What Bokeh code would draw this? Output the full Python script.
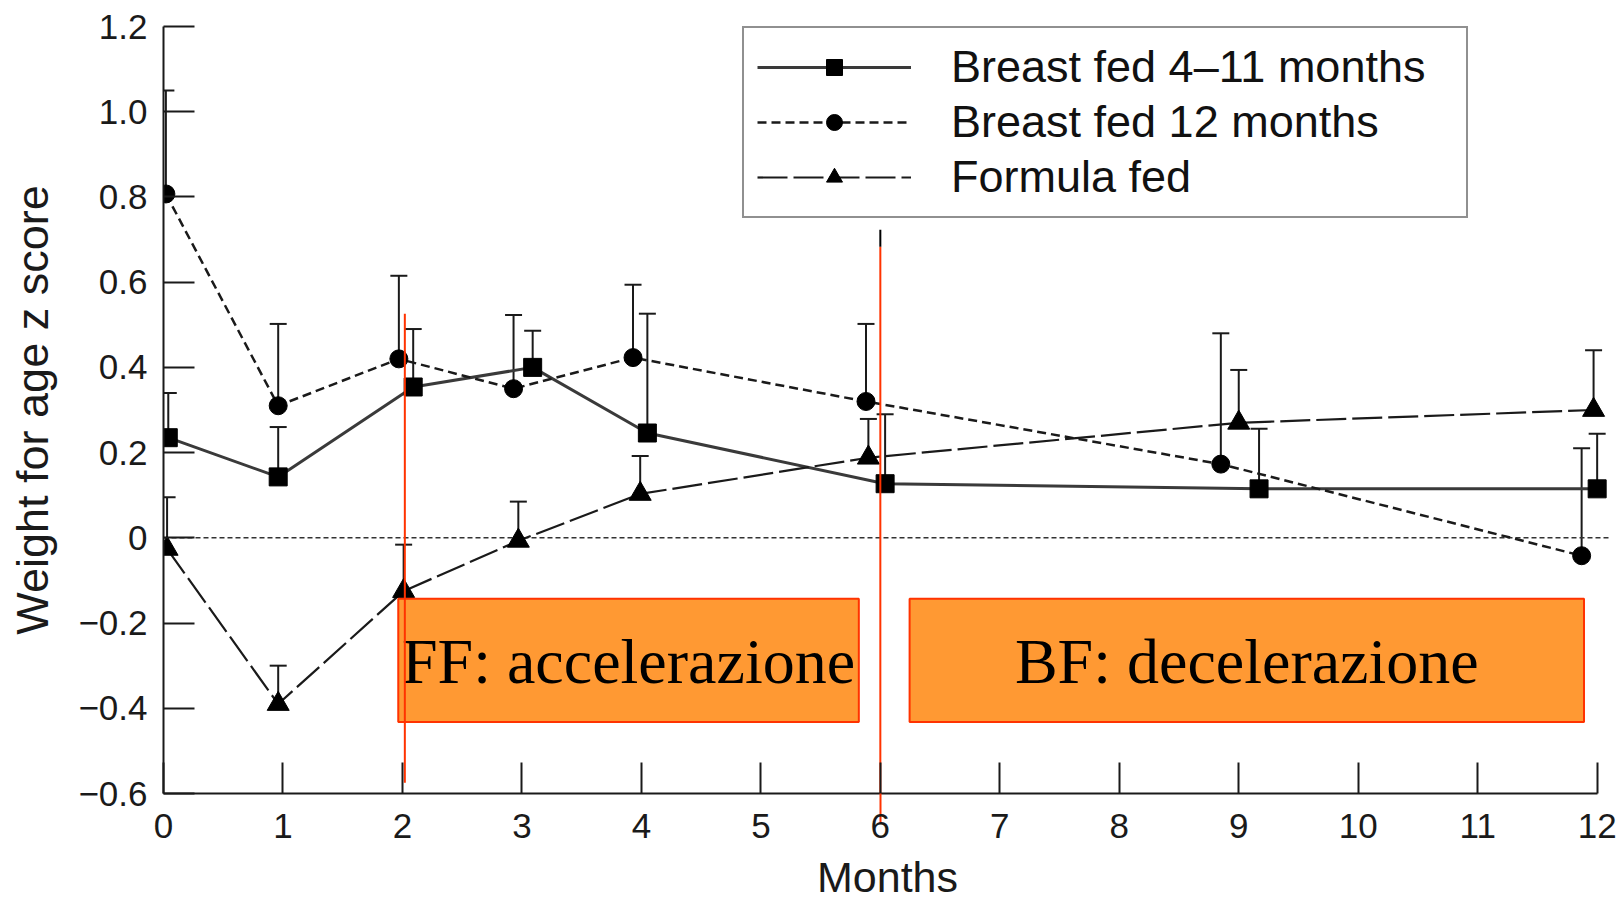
from bokeh.plotting import figure
from bokeh.models import (Range1d, FixedTicker, Legend, LegendItem, Whisker, TeeHead,
                          ColumnDataSource)
from bokeh.core.properties import value
from bokeh.embed import file_html
from bokeh.resources import INLINE

# ---------------- data ----------------
month_ticks = [0, 1, 2, 3, 4, 5, 6, 7, 8, 9, 10, 11, 12]
z_ticks = [-0.6, -0.4, -0.2, 0, 0.2, 0.4, 0.6, 0.8, 1.0, 1.2]
z_tick_labels = ["\u22120.6", "\u22120.4", "\u22120.2", "0", "0.2", "0.4", "0.6", "0.8", "1.0", "1.2"]

x_title = "Months"
y_title = "Weight for age z score"
series_names = ["Breast fed 4\u201311 months", "Breast fed 12 months", "Formula fed"]

bf411_x = [0.04, 0.96, 2.09, 3.09, 4.05, 6.04, 9.17, 12.0]
bf411_z = [0.235, 0.143, 0.354, 0.400, 0.246, 0.127, 0.115, 0.115]
bf411_upper = [0.340, 0.260, 0.490, 0.486, 0.526, 0.290, 0.256, 0.244]

bf12_x = [0.02, 0.96, 1.97, 2.93, 3.93, 5.88, 8.85, 11.87]
bf12_z = [0.807, 0.310, 0.420, 0.350, 0.423, 0.320, 0.173, -0.042]
bf12_upper = [1.050, 0.502, 0.615, 0.523, 0.594, 0.502, 0.480, 0.210]

ff_x = [0.03, 0.96, 2.01, 2.97, 3.99, 5.90, 9.00, 11.97]
ff_z = [-0.026, -0.390, -0.125, -0.007, 0.103, 0.188, 0.270, 0.300]
ff_upper = [0.095, -0.300, -0.016, 0.085, 0.192, 0.279, 0.394, 0.440]

# annotation boxes
box_labels = ["FF: accelerazione", "BF: decelerazione"]
box_left = [1.965, 6.245]
box_right = [5.82, 11.89]
box_bottom = [-0.432, -0.432]
box_top = [-0.143, -0.143]
box_text_y = [-0.291, -0.291]

# red marker lines
vline_x = [2.02, 6.0]
vline_top = [0.526, 0.683]
vline_bottom = [-0.575, -0.6]
vline2_black_top = 0.723

# ---------------- figure ----------------
p = figure(width=1623, height=903, output_backend="svg", toolbar_location=None,
           x_range=Range1d(0, 12.12), y_range=Range1d(-0.6, 1.2),
           min_border_left=163, min_border_right=12, min_border_top=26,
           min_border_bottom=110)
p.outline_line_color = None
p.grid.visible = False
p.background_fill_color = "white"
p.border_fill_color = "white"

for ax in (p.xaxis[0], p.yaxis[0]):
    ax.major_tick_in = 31
    ax.major_tick_out = 0
    ax.minor_tick_line_color = None
    ax.axis_line_width = 2
    ax.axis_line_color = "#1a1a1a"
    ax.major_tick_line_width = 2
    ax.major_tick_line_color = "#1a1a1a"
    ax.major_label_text_font = "Liberation Sans"
    ax.major_label_text_font_size = "35px"
    ax.major_label_text_color = "#1a1a1a"
    ax.axis_label_text_font = "Liberation Sans"
    ax.axis_label_text_font_style = "normal"
    ax.axis_label_text_color = "#1a1a1a"

# x axis; the minor tick at 6 continues the red marker line below the axis
p.xaxis.ticker = FixedTicker(ticks=month_ticks, minor_ticks=[vline_x[1]])
p.xaxis.bounds = (month_ticks[0], month_ticks[-1])
p.xaxis.minor_tick_in = 0
p.xaxis.minor_tick_out = 30
p.xaxis.minor_tick_line_color = "#FF3300"
p.xaxis.minor_tick_line_width = 2
p.xaxis.major_label_standoff = -10
p.xaxis.axis_label = x_title
p.xaxis.axis_label_text_font_size = "43px"
p.xaxis.axis_label_standoff = 12

p.yaxis.ticker = FixedTicker(ticks=z_ticks)
p.yaxis.major_label_overrides = {t: s for t, s in zip(z_ticks, z_tick_labels)}
p.yaxis.bounds = (z_ticks[0], z_ticks[-1])
p.yaxis.major_label_standoff = 16
p.yaxis.axis_label = y_title
p.yaxis.axis_label_text_font_size = "45px"
p.yaxis.axis_label_standoff = 17

# zero reference line
p.line([month_ticks[0], p.x_range.end], [0, 0], line_color="#333333",
       line_width=1.5, line_dash="5 3")

# series lines
l1 = p.line(bf411_x, bf411_z, line_color="#3a3a3a", line_width=3)
l2 = p.line(bf12_x, bf12_z, line_color="#1a1a1a", line_width=2.5, line_dash="9 5")
l3 = p.line(ff_x, ff_z, line_color="#1a1a1a", line_width=2.2, line_dash="30 6")

# error bars (upper only)
for xs, zs, ups in ((bf411_x, bf411_z, bf411_upper),
                    (bf12_x, bf12_z, bf12_upper),
                    (ff_x, ff_z, ff_upper)):
    src = ColumnDataSource(dict(x=xs, lower=zs, upper=ups))
    w = Whisker(source=src, base="x", lower="lower", upper="upper",
                dimension="height", lower_head=None,
                upper_head=TeeHead(size=17, line_width=2, line_color="#1a1a1a"),
                line_width=2, line_color="#1a1a1a")
    p.add_layout(w)

m1 = p.scatter(bf411_x, bf411_z, marker="square", size=18, fill_color="black",
               line_color="black")
m2 = p.scatter(bf12_x, bf12_z, marker="circle", size=18, fill_color="black",
               line_color="black")
m3 = p.scatter(ff_x, ff_z, marker="triangle", size=22, fill_color="black",
               line_color="black")

# orange boxes with text
p.quad(left=box_left, right=box_right, bottom=box_bottom, top=box_top,
       fill_color="#FF9933", line_color="#FF3300", line_width=2)
box_text_x = [(a + b) / 2 for a, b in zip(box_left, box_right)]
p.text(x=box_text_x, y=box_text_y, text=box_labels,
       text_font=value("Liberation Serif"), text_font_size="64px",
       text_align="center", text_baseline="middle", text_color="black")

# red vertical lines
p.segment(x0=vline_x, y0=vline_top, x1=vline_x, y1=vline_bottom,
          line_color="#FF3300", line_width=2)
p.segment(x0=[vline_x[1]], y0=[vline2_black_top], x1=[vline_x[1]], y1=[vline_top[1]],
          line_color="black", line_width=2)

# legend
legend = Legend(items=[LegendItem(label=series_names[0], renderers=[l1, m1]),
                       LegendItem(label=series_names[1], renderers=[l2, m2]),
                       LegendItem(label=series_names[2], renderers=[l3, m3])],
                location=(579, 575), orientation="vertical",
                glyph_width=154, glyph_height=40, label_height=40,
                label_standoff=40, label_width=502, padding=13, spacing=3, margin=0,
                label_text_font="Liberation Sans", label_text_font_size="45px",
                label_text_color="#111111",
                border_line_color="#222222", border_line_width=2.5,
                background_fill_color="white", background_fill_alpha=1.0)
p.add_layout(legend)

open("out.html", "w").write(file_html(p, INLINE))
